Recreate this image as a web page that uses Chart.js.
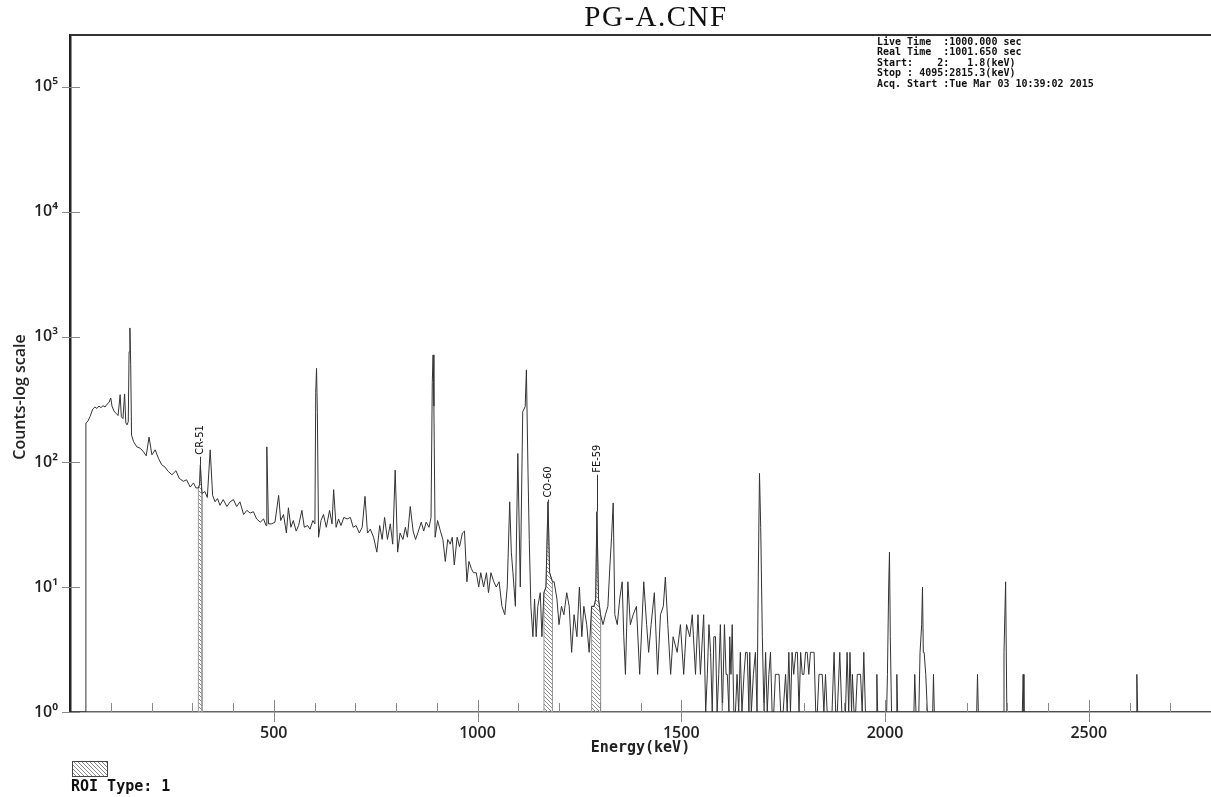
<!DOCTYPE html>
<html lang="en">
<head>
<meta charset="UTF-8">
<title>PG-A.CNF</title>
<script src="https://cdn.jsdelivr.net/npm/chart.js@4.4.1/dist/chart.umd.min.js"></script>
<style>
  html, body { margin: 0; padding: 0; background: #fff; overflow: hidden; }
  canvas { display: block; }
</style>
</head>
<body>
<canvas id="spectrum" width="1211" height="797"></canvas>
<script>
  // spectrum, [energy keV, counts]
  const lowBand = [
    [0,1],[38,1],[39,205],[44,212],[49,230],[56,265],[61,275],[66,268],[71,280],[76,272],
    [81,282],[86,275],[91,290],[96,300],[100,325],[103,280],[108,255],[113,245],[118,235],[123,345],
    [126,230],[130,222],[134,350],[137,205],[140,198],[143,210],[145,760],[147,1180],[149,600],[151,164],
    [156,145],[164,132],[172,129],[180,121],[187,112],[194,158],[201,114],[209,125],[217,107],[225,95],
    [233,91],[241,84],[250,79],[260,85],[268,74],[278,70],[286,72],[295,63],[303,68],[309,62],
    [315,62],[318,66],[320,95],[322,70],[324,56],[331,58],[337,52],[344,125],[350,54],[356,48],
    [362,51],[368,45],[376,50],[385,44],[393,48],[401,50],[409,44],[417,48],[426,38],[434,41],
    [442,39],[450,40],[458,35],[467,33],[475,35],[481,31],[483,132],[487,32],[495,32],[503,33],
    [512,54],[517,34],[524,38],[531,27],[536,43],[542,30],[548,34],[555,28],[561,31],[569,41],
    [575,30],[583,31],[589,29],[596,34],[601,32],[603,360],[605,560],[607,250],[610,25],[616,34],
    [622,38],[629,30],[637,41],[643,32],[647,60],[653,30],[659,35],[665,31],[672,36],[680,35],
    [688,36],[695,30]
  ];
  const midBand = [
    [702,31],[710,27],[717,30],[724,53],[730,27],[737,29],[745,25],[753,19],[760,31],[766,24],
    [772,36],[779,24],[786,32],[792,22],[798,86],[804,19],[810,27],[817,24],[823,30],[828,25],
    [835,44],[842,28],[848,24],[855,28],[862,33],[868,28],[874,33],[881,30],[886,36],[889,430],
    [891,718],[893,280],[896,25],[902,34],[909,28],[915,24],[921,16],[927,24],[933,22],[938,25],
    [943,15],[950,25],[956,21],[963,27],[968,28],[974,11],[979,16],[985,14],[990,13],[997,13],
    [1003,10],[1008,13],[1015,10],[1022,13],[1027,9],[1033,13],[1040,11],[1046,10],[1053,11],[1060,7],
    [1067,6],[1073,10],[1079,48],[1083,19],[1087,13],[1093,7],[1099,117],[1105,10],[1111,252],[1117,277],
    [1120,545],[1124,81],[1127,24],[1131,7],[1136,4],[1140,8],[1144,4],[1148,7],[1154,9],[1158,4],
    [1163,9],[1168,10],[1173,48],[1177,13],[1184,11],[1188,11],[1195,8],[1200,5],[1206,7],[1212,6],
    [1219,9],[1225,7],[1231,3],[1237,6],[1244,4],[1250,10],[1256,4],[1261,7],[1268,5],[1274,3],
    [1280,7],[1286,7],[1290,8],[1293,40],[1297,8],[1302,6],[1308,5],[1314,6],[1320,7],[1325,15],
    [1329,25],[1333,47],[1337,6],[1343,5],[1349,8],[1355,11],[1359,4],[1363,2],[1369,11],[1375,5],
    [1382,6],[1390,7],[1398,2]
  ];
  const highBand = [
    [1408,11],[1415,5],[1420,3],[1426,5],[1434,9],[1442,2],[1449,6],[1456,7],[1461,12],[1467,5],
    [1474,2],[1480,4],[1490,3],[1498,5],[1506,2],[1513,5],[1521,4],[1527,6],[1535,2],[1541,6],
    [1547,2],[1555,6],[1560,1],[1564,2],[1568,5],[1572,3],[1576,1],[1580,4],[1584,4],[1588,1],
    [1592,2],[1596,5],[1601,1],[1606,5],[1610,2],[1613,2],[1617,1],[1619,4],[1622,2],[1625,5],
    [1629,1],[1633,1],[1637,2],[1641,1],[1645,3],[1649,1],[1654,2],[1658,3],[1662,3],[1666,1],
    [1668,3],[1672,1],[1677,2],[1682,3],[1686,1],[1689,12],[1692,81],[1695,30],[1699,4],[1703,1],
    [1707,3],[1711,1],[1715,2],[1719,3],[1723,1],[1727,1],[1731,2],[1736,2],[1740,2],[1744,1],
    [1750,1],[1756,2],[1760,1],[1764,3],[1768,1],[1772,3],[1776,2],[1781,3],[1785,3],[1789,1],
    [1793,3],[1797,2],[1801,2],[1805,3],[1809,3],[1813,2],[1817,3],[1822,3],[1826,3],[1830,1],
    [1834,1],[1838,2],[1842,2],[1846,2],[1850,1],[1854,2],[1858,1],[1862,1],[1866,1],[1870,1],
    [1875,3],[1879,1],[1883,1],[1889,3],[1894,1],[1899,1],[1903,1],[1907,3],[1911,1],[1914,3],
    [1918,1],[1920,2],[1924,1],[1928,1],[1932,2],[1936,2],[1940,2],[1944,1],[1948,3],[1952,1],
    [1957,1],[1978,1],[1980,2],[1982,1],[2004,1],[2006,2],[2009,10],[2011,19],[2013,4],[2016,1],
    [2027,1],[2029,2],[2031,1],[2071,1],[2073,2],[2076,1],[2083,1],[2086,3],[2090,5],[2092,10],
    [2094,3],[2096,3],[2100,2],[2104,1],[2117,1],[2119,2],[2121,1],[2225,1],[2227,2],[2229,1],
    [2290,1],[2292,3],[2296,11],[2299,1],[2337,1],[2339,2],[2341,1],[2616,1],[2618,2],[2620,1],
    [2800,1]
  ];

  // regions of interest, keV
  const roiRanges = [[315, 324], [1163, 1184], [1280, 1302]];

  // nuclide labels
  const peakNames = ['CR-51', 'CO-60', 'FE-59'];
  const peakEnergies = [320, 1173, 1293];
  const peakCounts = [95, 48, 40];
  const labelCounts = [110, 50, 79];

  const xTickValues = [500, 1000, 1500, 2000, 2500];
  const yTickValues = [1, 10, 100, 1000, 10000, 100000];

  const infoLines = [
    'Live Time  :1000.000 sec',
    'Real Time  :1001.650 sec',
    'Start:    2:   1.8(keV)',
    'Stop : 4095:2815.3(keV)',
    'Acq. Start :Tue Mar 03 10:39:02 2015'
  ];

  const sup = '⁰¹²³⁴⁵⁶';
  const spectrum = lowBand.concat(midBand, highBand);
  const canvas = document.getElementById('spectrum');
  const ctx = canvas.getContext('2d');

  // diagonal hatching used for ROI fill
  function makeHatch() {
    const s = 4;
    const c = document.createElement('canvas');
    c.width = s; c.height = s;
    const g = c.getContext('2d');
    g.strokeStyle = '#8a8a8a';
    g.lineWidth = 1;
    g.beginPath();
    g.moveTo(0, 0); g.lineTo(s, s);
    g.moveTo(-1, s - 1); g.lineTo(1, s + 1);
    g.moveTo(s - 1, -1); g.lineTo(s + 1, 1);
    g.stroke();
    return ctx.createPattern(c, 'repeat');
  }
  const hatch = makeHatch();

  const roiSets = roiRanges.map(([s, e]) => ({
    data: [{ x: s, y: 1 }]
      .concat(spectrum.filter(p => p[0] >= s && p[0] <= e).map(p => ({ x: p[0], y: p[1] })))
      .concat([{ x: e, y: 1 }]),
    borderColor: '#9a9a9a',
    borderWidth: 1,
    backgroundColor: hatch,
    fill: 'start',
    pointRadius: 0,
    tension: 0,
    order: 2
  }));

  const decor = {
    id: 'decor',
    afterDatasetsDraw(chart) {
      const { ctx, chartArea: a, scales: { x, y } } = chart;
      ctx.save();

      // frame top
      ctx.strokeStyle = '#333';
      ctx.lineWidth = 2;
      ctx.beginPath();
      ctx.moveTo(a.left, a.top);
      ctx.lineTo(a.right, a.top);
      ctx.stroke();

      // tick marks
      ctx.strokeStyle = '#888';
      ctx.lineWidth = 1;
      yTickValues.forEach(v => {
        const py = Math.round(y.getPixelForValue(v)) + 0.5;
        ctx.beginPath();
        ctx.moveTo(a.left - 8, py);
        ctx.lineTo(a.left + 10, py);
        ctx.stroke();
      });
      for (let e = 100; e <= x.max; e += 100) {
        const px = Math.round(x.getPixelForValue(e)) + 0.5;
        const major = xTickValues.includes(e);
        ctx.beginPath();
        ctx.moveTo(px, a.bottom - (major ? 12 : 9));
        ctx.lineTo(px, a.bottom + (major ? 10 : 0));
        ctx.stroke();
      }

      // nuclide labels with leader lines
      ctx.fillStyle = '#111';
      ctx.strokeStyle = '#333';
      ctx.font = '11px "Liberation Sans Narrow", "DejaVu Sans Condensed", "Liberation Sans", sans-serif';
      peakNames.forEach((name, i) => {
        const px = Math.round(x.getPixelForValue(peakEnergies[i])) + 0.5;
        const top = y.getPixelForValue(labelCounts[i]);
        const bottom = y.getPixelForValue(peakCounts[i]);
        ctx.beginPath();
        ctx.moveTo(px, top);
        ctx.lineTo(px, bottom);
        ctx.stroke();
        ctx.save();
        ctx.translate(px, top - 2);
        ctx.rotate(-Math.PI / 2);
        ctx.textAlign = 'left';
        ctx.textBaseline = 'middle';
        ctx.fillText(name, 0, 0);
        ctx.restore();
      });

      // y axis title
      ctx.save();
      ctx.translate(20, 397);
      ctx.rotate(-Math.PI / 2);
      ctx.fillStyle = '#222';
      ctx.font = '600 16px "Open Sans", sans-serif';
      ctx.textAlign = 'center';
      ctx.textBaseline = 'middle';
      ctx.fillText('Counts-log scale', 0, 0);
      ctx.restore();

      // title
      ctx.fillStyle = '#111';
      ctx.font = '29px "Liberation Serif", "Times New Roman", serif';
      ctx.letterSpacing = '1.5px';
      ctx.textAlign = 'center';
      ctx.textBaseline = 'middle';
      ctx.fillText('PG-A.CNF', 656, 18);
      ctx.letterSpacing = '0px';

      // acquisition info
      ctx.font = 'bold 10px "DejaVu Sans Mono", monospace';
      ctx.textAlign = 'left';
      infoLines.forEach((t, i) => ctx.fillText(t, 877, 42 + i * 10.5));

      // ROI legend
      ctx.fillStyle = hatch;
      ctx.fillRect(72, 761, 35, 15);
      ctx.strokeStyle = '#444';
      ctx.strokeRect(72.5, 761.5, 35, 15);
      ctx.fillStyle = '#111';
      ctx.font = 'bold 15px "DejaVu Sans Mono", monospace';
      ctx.fillText('ROI Type: 1', 71, 787);

      ctx.restore();
    }
  };

  new Chart(ctx, {
    type: 'line',
    data: {
      datasets: [{
        data: spectrum.map(p => ({ x: p[0], y: p[1] })),
        borderColor: '#333',
        borderWidth: 1,
        pointRadius: 0,
        tension: 0,
        fill: false,
        order: 1
      }].concat(roiSets)
    },
    options: {
      responsive: false,
      animation: false,
      layout: { padding: { top: 35, right: 0, left: 0, bottom: 0 } },
      plugins: {
        legend: { display: false },
        tooltip: { enabled: false },
        title: { display: false }
      },
      scales: {
        x: {
          type: 'linear',
          min: 0,
          max: 2800,
          afterBuildTicks: s => { s.ticks = xTickValues.map(v => ({ value: v })); },
          afterFit: s => { s.height = 85; },
          grid: { display: false, drawTicks: false },
          border: { display: true, color: '#666', width: 1.5 },
          ticks: {
            padding: 12,
            color: '#222',
            maxRotation: 0,
            autoSkip: false,
            font: { family: '"Open Sans", sans-serif', size: 16, weight: '600' },
            callback: v => String(v)
          },
          title: {
            display: true,
            text: 'Energy(keV)',
            color: '#222',
            font: { family: '"DejaVu Sans Mono", monospace', size: 15, weight: 'bold' },
            padding: { top: 0, bottom: 40 }
          }
        },
        y: {
          type: 'logarithmic',
          min: 1,
          max: 260000,
          afterBuildTicks: s => { s.ticks = yTickValues.map(v => ({ value: v })); },
          afterFit: s => { s.width = 70; },
          grid: { display: false, drawTicks: false },
          border: { display: true, color: '#222', width: 2.5 },
          ticks: {
            padding: 12,
            color: '#222',
            font: { family: '"Open Sans", sans-serif', size: 16, weight: '600' },
            callback: v => '10' + sup[Math.round(Math.log10(v))]
          },
          title: { display: false }
        }
      }
    },
    plugins: [decor]
  });
</script>
</body>
</html>
